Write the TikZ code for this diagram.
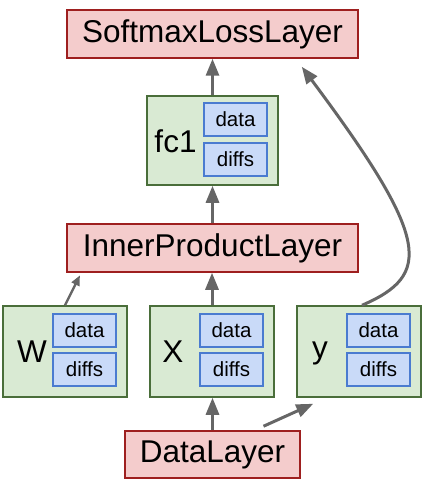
\documentclass[tikz,border=0pt]{standalone}
\usepackage{fontspec}
\setmainfont{Liberation Sans}
\usetikzlibrary{arrows.meta,positioning,calc}
\definecolor{layerfill}{HTML}{F4CCCC}
\definecolor{layerline}{HTML}{9E1F1F}
\definecolor{blobfill}{HTML}{D9EAD3}
\definecolor{blobline}{HTML}{4A6E3A}
\definecolor{cellfill}{HTML}{C9DAF8}
\definecolor{cellline}{HTML}{4A7BD0}
\definecolor{arrowgray}{HTML}{666666}

\begin{document}
\begin{tikzpicture}[x=1pt,y=-1pt,
  every node/.style={font=\fontsize{31.5}{36}\selectfont},
  layer/.style={draw=layerline,fill=layerfill,line width=1.5pt,inner sep=0pt,minimum width=291pt,minimum height=48pt},
  blob/.style={draw=blobline,fill=blobfill,line width=1.5pt,inner sep=0pt,minimum width=124pt,minimum height=91pt},
  cell/.style={draw=cellline,fill=cellfill,line width=1.5pt,inner sep=0pt,minimum width=63pt,minimum height=33pt,font=\fontsize{20.5}{24}\selectfont},
  lbl/.style={anchor=base,inner sep=0pt},
  ar/.style={-{Triangle[length=17pt,width=13pt]},draw=arrowgray,line width=3pt},
  arthin/.style={-{Triangle[length=10pt,width=8.5pt]},draw=arrowgray,line width=2.3pt}]
\useasboundingbox (0,0) rectangle (426,489);
% layers
\node[layer] (loss) at (212.5,34) {SoftmaxLossLayer};
\node[layer] (ip) at (212.5,248) {InnerProductLayer};
\node[layer,minimum width=175pt,minimum height=47pt] (data) at (212.5,454.5) {DataLayer};
% blobs
\node[blob,minimum width=131pt,minimum height=89pt] (fc1) at (212.5,140.5) {};
\node[lbl] (fc1name) at (175.5,153) {fc1};
\node[cell] (fc1data) at (235.5,119.5) {data};
\node[cell] (fc1diffs) at (235.5,159.5) {diffs};
\node[blob] (w) at (65,351.5) {};
\node[lbl] (wname) at (32,362) {W};
\node[cell] (wdata) at (84.5,330.5) {data};
\node[cell] (wdiffs) at (84.5,369.5) {diffs};
\node[blob] (x) at (212,351.5) {};
\node[lbl] (xname) at (173,362) {X};
\node[cell] (xdata) at (231.5,330.5) {data};
\node[cell] (xdiffs) at (231.5,369.5) {diffs};
\node[blob] (y) at (359,351.5) {};
\node[lbl] (yname) at (320,358) {y};
\node[cell] (ydata) at (378.5,330.5) {data};
\node[cell] (ydiffs) at (378.5,369.5) {diffs};
% connections
\draw[ar] (fc1.north) -- (loss.south);
\draw[ar] (ip.north) -- (fc1.south);
\draw[ar] (x.north) -- (x.north |- ip.south);
\draw[ar] (data.north) -- (data.north |- x.south);
\draw[arthin,shorten >=3pt] (w.north) -- ($(ip.south west)+(15,0)$);
\draw[ar] ($(data.north)+(51,-4)$) -- ($(y.south west)+(17,6)$);
\draw[ar] ($(y.north)+(3,0)$) .. controls (432,275) and (431,240) .. ($(loss.south east)+(-57,8)$);
\end{tikzpicture}
\end{document}
